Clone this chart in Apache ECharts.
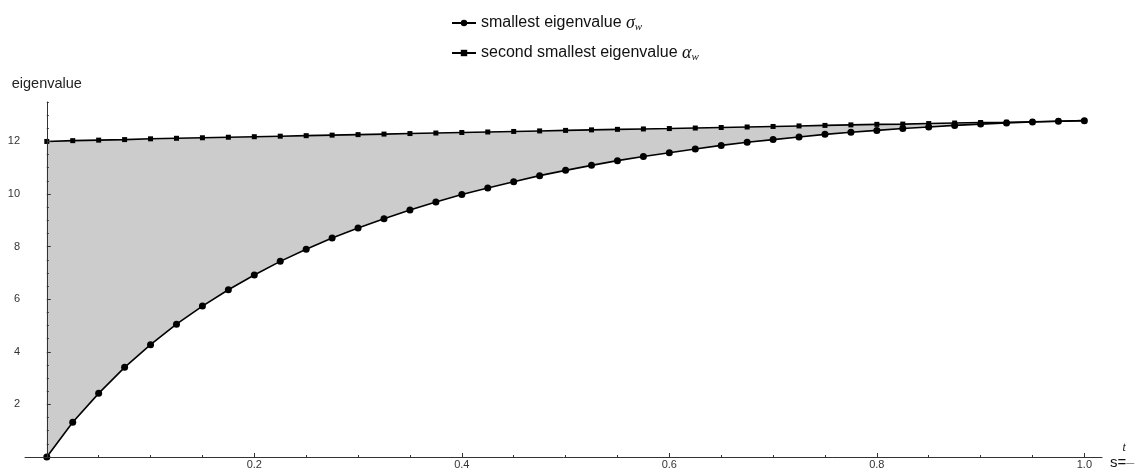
<!DOCTYPE html>
<html>
<head>
<meta charset="utf-8">
<script src="https://cdn.jsdelivr.net/npm/echarts@6/dist/echarts.min.js"></script>
<style>
  html, body { margin: 0; padding: 0; background: #fff; }
  #container { width: 1139px; height: 468px; }
</style>
</head>
<body>
<div id="container"></div>
<script>
// s = t/T sample points
var sValues = [0, 0.025, 0.05, 0.075, 0.1, 0.125, 0.15, 0.175, 0.2, 0.225,
    0.25, 0.275, 0.3, 0.325, 0.35, 0.375, 0.4, 0.425, 0.45, 0.475,
    0.5, 0.525, 0.55, 0.575, 0.6, 0.625, 0.65, 0.675, 0.7, 0.725,
    0.75, 0.775, 0.8, 0.825, 0.85, 0.875, 0.9, 0.925, 0.95, 0.975, 1.0];

// smallest eigenvalue sigma_w
var sigmaValues = [0, 1.32, 2.42, 3.41, 4.27, 5.05, 5.74, 6.36, 6.92, 7.44,
    7.90, 8.33, 8.71, 9.06, 9.39, 9.70, 9.98, 10.23, 10.47, 10.70,
    10.90, 11.09, 11.27, 11.43, 11.57, 11.71, 11.85, 11.97, 12.07, 12.17,
    12.27, 12.35, 12.42, 12.49, 12.55, 12.61, 12.66, 12.70, 12.74, 12.77, 12.79];

// second smallest eigenvalue alpha_w
var alphaValues = [12.00, 12.03, 12.05, 12.07, 12.10, 12.12, 12.14, 12.16, 12.18, 12.20,
    12.22, 12.24, 12.26, 12.28, 12.30, 12.32, 12.34, 12.36, 12.38, 12.40,
    12.42, 12.44, 12.46, 12.475, 12.49, 12.51, 12.53, 12.55, 12.57, 12.59,
    12.61, 12.63, 12.65, 12.66, 12.68, 12.70, 12.72, 12.73, 12.75, 12.77, 12.79];

var xMajorTicks = [0.2, 0.4, 0.6, 0.8, 1.0];
var xMinorTicks = [0.05, 0.1, 0.15, 0.25, 0.3, 0.35, 0.45, 0.5, 0.55, 0.65, 0.7, 0.75, 0.85, 0.9, 0.95];
var yMajorTicks = [2, 4, 6, 8, 10, 12];
var yMinorTicks = [0.5, 1, 1.5, 2.5, 3, 3.5, 4.5, 5, 5.5, 6.5, 7, 7.5, 8.5, 9, 9.5,
    10.5, 11, 11.5, 12.5, 13, 13.5];

var seriesNames = ['smallest eigenvalue σw', 'second smallest eigenvalue αw'];

function grafico() {
    var dom = document.getElementById('container');
    var myChart = echarts.init(dom);

    var lower = sValues.map(function (s, i) { return [s, sigmaValues[i]]; });
    var upper = sValues.map(function (s, i) { return [s, alphaValues[i]]; });

    var labelFont = { fontFamily: 'Liberation Sans', fontSize: 11, color: '#333' };
    var xRange = { min: -0.021, max: 1.017 };

    var option = {
        animation: false,
        backgroundColor: '#fff',
        legend: {
            data: seriesNames,
            orient: 'vertical',
            left: 446,
            top: 9,
            itemWidth: 24,
            itemHeight: 8,
            itemGap: 11,
            formatter: function (name) {
                if (name === seriesNames[0]) {
                    return '{n|smallest eigenvalue }{g|σ}{w|w}';
                }
                return '{n|second smallest eigenvalue }{g|α}{w|w}';
            },
            textStyle: {
                rich: {
                    n: { fontFamily: 'Liberation Sans', fontSize: 16, color: '#111', lineHeight: 20 },
                    g: { fontFamily: 'Liberation Serif', fontStyle: 'italic', fontSize: 18, color: '#111', lineHeight: 20 },
                    w: { fontFamily: 'Liberation Serif', fontStyle: 'italic', fontSize: 11, color: '#111', lineHeight: 20, verticalAlign: 'bottom', padding: [7, 0, 0, 0] }
                }
            }
        },
        grid: { left: 25, right: 37, top: 102, bottom: 11, containLabel: false, outerBoundsMode: 'none' },
        xAxis: [{
            type: 'value',
            min: xRange.min,
            max: xRange.max,
            z: 10,
            name: '{sp|   }{f|t}\n{s|s=}{b|―}\n{sp|   }{f|T}',
            nameLocation: 'end',
            nameGap: 8,
            nameTextStyle: {
                rich: {
                    s: { fontFamily: 'Liberation Sans', fontSize: 15, color: '#111' },
                    sp: { fontFamily: 'Liberation Sans', fontSize: 15 },
                    f: { fontFamily: 'Liberation Serif', fontStyle: 'italic', fontSize: 12, color: '#111', lineHeight: 9 },
                    b: { fontFamily: 'Liberation Sans', fontSize: 8, color: '#111' }
                },
                padding: [12, 0, 0, 0]
            },
            axisLine: { onZero: false, lineStyle: { color: '#333', width: 1 } },
            axisTick: { inside: true, length: 4, customValues: xMajorTicks, lineStyle: { color: '#333' } },
            axisLabel: Object.assign({ customValues: xMajorTicks, margin: 2, formatter: function (v) { return v.toFixed(1); } }, labelFont),
            splitLine: { show: false }
        }, {
            type: 'value',
            min: xRange.min,
            max: xRange.max,
            position: 'bottom',
            z: 10,
            axisLine: { show: false },
            axisTick: { inside: true, length: 2, customValues: xMinorTicks, lineStyle: { color: '#333' } },
            axisLabel: { show: false },
            splitLine: { show: false }
        }],
        yAxis: [{
            type: 'value',
            min: 0,
            max: 13.5,
            z: 10,
            name: 'eigenvalue',
            nameLocation: 'end',
            nameGap: 11,
            nameTextStyle: { fontFamily: 'Liberation Sans', fontSize: 14.5, color: '#222' },
            axisLine: { onZero: true, lineStyle: { color: '#333', width: 1 } },
            axisTick: { inside: true, length: 4, customValues: yMajorTicks, lineStyle: { color: '#333' } },
            axisLabel: Object.assign({ customValues: yMajorTicks, margin: 5 }, labelFont),
            splitLine: { show: false }
        }, {
            type: 'value',
            min: 0,
            max: 13.5,
            position: 'left',
            z: 10,
            axisLine: { show: false, onZero: true },
            axisTick: { inside: true, length: 2, customValues: yMinorTicks, lineStyle: { color: '#333' } },
            axisLabel: { show: false },
            splitLine: { show: false }
        }],
        series: [{
            // grey band: area under the upper curve ...
            name: 'bandTop',
            type: 'line',
            data: upper,
            symbol: 'none',
            lineStyle: { opacity: 0 },
            areaStyle: { color: '#cccccc', opacity: 1, origin: 'start' },
            silent: true,
            z: 1
        }, {
            // ... minus the area under the lower curve
            name: 'bandBottom',
            type: 'line',
            data: lower,
            symbol: 'none',
            lineStyle: { opacity: 0 },
            areaStyle: { color: '#ffffff', opacity: 1, origin: 'start', shadowColor: '#ffffff', shadowBlur: 0, shadowOffsetX: 1 },
            silent: true,
            z: 2
        }, {
            name: seriesNames[0],
            type: 'line',
            data: lower,
            symbol: 'circle',
            symbolSize: 7,
            clip: false,
            lineStyle: { color: '#000', width: 1.6 },
            itemStyle: { color: '#000' },
            z: 3
        }, {
            name: seriesNames[1],
            type: 'line',
            data: upper,
            symbol: 'rect',
            symbolSize: 5,
            clip: false,
            lineStyle: { color: '#000', width: 1.6 },
            itemStyle: { color: '#000' },
            z: 3
        }]
    };

    if (option && typeof option === 'object') {
        myChart.setOption(option);
    }
}
grafico();
</script>
</body>
</html>
